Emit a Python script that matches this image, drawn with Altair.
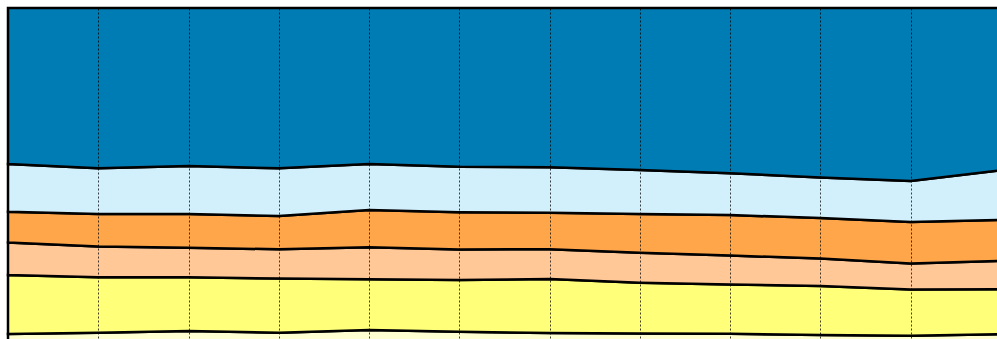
import altair as alt
import pandas as pd

# x positions (12 periods)
periods = list(range(12))

# series shares (percent), bottom to top
series_names = ["S1", "S2", "S3", "S4", "S5", "S6"]
s1 = [4.1, 4.5, 5.0, 4.5, 5.3, 4.8, 4.4, 4.3, 4.2, 3.8, 3.6, 4.1]
s2 = [17.4, 16.3, 15.8, 15.9, 14.9, 15.2, 15.9, 14.9, 14.5, 14.4, 13.6, 13.2]
s3 = [9.5, 9.0, 8.7, 8.6, 9.4, 9.0, 8.8, 8.8, 8.5, 8.1, 7.6, 8.3]
s4 = [9.1, 9.6, 9.9, 9.8, 11.0, 10.9, 10.7, 11.4, 11.9, 11.9, 12.2, 12.1]
s5 = [14.0, 13.4, 14.1, 14.0, 13.5, 13.4, 13.4, 12.9, 12.3, 11.9, 12.1, 14.6]
s6 = [45.9, 47.1, 46.5, 47.1, 45.9, 46.7, 46.9, 47.6, 48.6, 49.8, 50.8, 47.7]
colors = ["#FFFFD2", "#FFFF7A", "#FFC896", "#FFA64B", "#D2F0FC", "#007CB4"]

all_series = [s1, s2, s3, s4, s5, s6]
rows = []
for k, (name, vals) in enumerate(zip(series_names, all_series)):
    for x, v in zip(periods, vals):
        rows.append({"x": x, "value": v, "series": name, "order": k})
df = pd.DataFrame(rows)

chart = alt.Chart(df).mark_area(
    stroke="black", strokeWidth=2.5, strokeJoin="miter"
).encode(
    x=alt.X("x:Q",
            scale=alt.Scale(domain=[0, 10.956], nice=False, zero=False),
            axis=alt.Axis(values=periods, labels=False, ticks=False, domain=False,
                          grid=True, gridColor="#000000", gridOpacity=0.75,
                          gridDash=[2, 2], gridWidth=1, zindex=1, title=None)),
    y=alt.Y("value:Q", stack="normalize",
            scale=alt.Scale(domain=[0.0265, 1], nice=False, zero=False),
            axis=None),
    color=alt.Color("series:N",
                    scale=alt.Scale(domain=series_names, range=colors),
                    legend=None),
    order=alt.Order("order:Q", sort="ascending"),
).properties(
    width=989,
    height=331,
    autosize=alt.AutoSizeParams(type="none"),
    padding={"left": 8, "top": 8, "right": 0, "bottom": 0},
).configure_view(stroke=None)

chart.save("out.html", embed_options={"renderer": "svg", "actions": False})
